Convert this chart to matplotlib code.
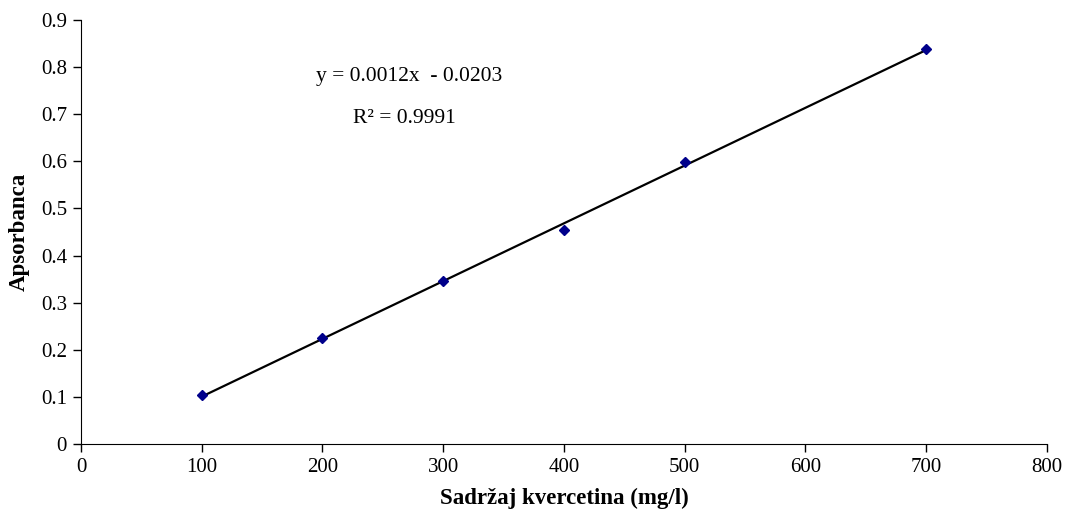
import numpy as np
import matplotlib.pyplot as plt

plt.rcParams['font.family'] = ['Liberation Serif', 'DejaVu Serif']

# calibration data
koncentracija = [100, 200, 300, 400, 500, 700]
apsorbanca = [0.104, 0.224, 0.347, 0.454, 0.598, 0.838]

x_ticks = [0, 100, 200, 300, 400, 500, 600, 700, 800]
y_ticks = [0, 0.1, 0.2, 0.3, 0.4, 0.5, 0.6, 0.7, 0.8, 0.9]
y_labels = ['0', '0.1', '0.2', '0.3', '0.4', '0.5', '0.6', '0.7', '0.8', '0.9']


def main():
    fig = plt.figure(figsize=(10.65, 5.11), dpi=100)
    ax = fig.add_axes([0.076, 0.131, 0.907, 0.830])

    # linear trendline over the data range
    k, n = np.polyfit(koncentracija, apsorbanca, 1)
    xs = np.array([min(koncentracija), max(koncentracija)])
    ax.plot(xs, k * xs + n, color='black', linewidth=1.6, zorder=2)
    ax.plot(koncentracija, apsorbanca, linestyle='none', marker='D',
            markersize=5.5, color='#00008B', zorder=3)

    ax.set_xlim(0, 800)
    ax.set_ylim(0, 0.9)
    ax.set_xticks(x_ticks)
    ax.set_yticks(y_ticks)
    ax.set_yticklabels(y_labels)
    ax.tick_params(direction='out', length=6, width=1, labelsize=15, pad=4)
    ax.spines['top'].set_visible(False)
    ax.spines['right'].set_visible(False)

    ax.set_xlabel('Sadržaj kvercetina (mg/l)', fontsize=16.5, fontweight='bold', labelpad=8)
    ax.set_ylabel('Apsorbanca', fontsize=16.5, fontweight='bold', labelpad=8)

    ax.text(272, 0.781, 'y = 0.0012x  - 0.0203', fontsize=15.5, ha='center', va='center')
    ax.text(268, 0.690, 'R² = 0.9991', fontsize=15.5, ha='center', va='center')

    fig.savefig('out.png', dpi=100)


main()
